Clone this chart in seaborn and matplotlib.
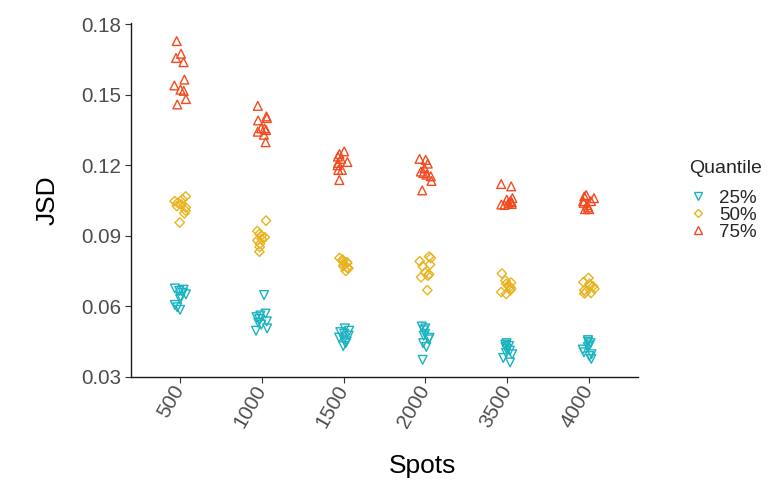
import numpy as np
import pandas as pd
import seaborn as sns
import matplotlib.pyplot as plt
from matplotlib.lines import Line2D

# Number of spots per simulated slide (x categories)
spots = ["500", "1000", "1500", "2000", "3500", "4000"]
quantiles = ["25%", "50%", "75%"]

# JSD of replicate runs, one list per spot count
jsd_q25 = [
    [0.0675, 0.0670, 0.0665, 0.0657, 0.0650, 0.0640, 0.0630, 0.0605, 0.0595, 0.0584],
    [0.0647, 0.0568, 0.0560, 0.0553, 0.0545, 0.0535, 0.0529, 0.0521, 0.0505, 0.0495],
    [0.0505, 0.0495, 0.0489, 0.0482, 0.0474, 0.0466, 0.0458, 0.0450, 0.0442, 0.0430],
    [0.0513, 0.0505, 0.0497, 0.0482, 0.0474, 0.0465, 0.0458, 0.0442, 0.0426, 0.0371],
    [0.0442, 0.0436, 0.0430, 0.0425, 0.0418, 0.0410, 0.0400, 0.0395, 0.0379, 0.0360],
    [0.0455, 0.0448, 0.0442, 0.0433, 0.0426, 0.0415, 0.0403, 0.0395, 0.0387, 0.0375],
]
jsd_q50 = [
    [0.1067, 0.1055, 0.1047, 0.1040, 0.1033, 0.1026, 0.1020, 0.1007, 0.0995, 0.0956],
    [0.0964, 0.0920, 0.0907, 0.0900, 0.0893, 0.0886, 0.0880, 0.0866, 0.0852, 0.0832],
    [0.0805, 0.0798, 0.0791, 0.0786, 0.0784, 0.0777, 0.0770, 0.0764, 0.0761, 0.0750],
    [0.0811, 0.0805, 0.0791, 0.0777, 0.0770, 0.0743, 0.0736, 0.0730, 0.0723, 0.0668],
    [0.0739, 0.0709, 0.0700, 0.0695, 0.0688, 0.0682, 0.0675, 0.0668, 0.0660, 0.0652],
    [0.0720, 0.0702, 0.0695, 0.0688, 0.0684, 0.0674, 0.0668, 0.0660, 0.0656, 0.0654],
]
jsd_q75 = [
    [0.1729, 0.1675, 0.1657, 0.1639, 0.1565, 0.1540, 0.1522, 0.1517, 0.1482, 0.1459],
    [0.1453, 0.1408, 0.1401, 0.1391, 0.1357, 0.1357, 0.1350, 0.1343, 0.1330, 0.1298],
    [0.1259, 0.1248, 0.1237, 0.1227, 0.1214, 0.1210, 0.1200, 0.1180, 0.1180, 0.1137],
    [0.1227, 0.1223, 0.1207, 0.1187, 0.1173, 0.1167, 0.1160, 0.1153, 0.1133, 0.1093],
    [0.1120, 0.1110, 0.1060, 0.1053, 0.1047, 0.1043, 0.1040, 0.1035, 0.1033, 0.1031],
    [0.1073, 0.1067, 0.1060, 0.1047, 0.1047, 0.1040, 0.1030, 0.1020, 0.1013, 0.1013],
]

y_ticks = [0.03, 0.06, 0.09, 0.12, 0.15, 0.18]

colors = {"25%": "#1AB3C0", "50%": "#E8B31E", "75%": "#F34A1F"}
markers = {"25%": "v", "50%": "D", "75%": "^"}
sizes = {"25%": 6.3, "50%": 4.8, "75%": 6.3}

rows = []
for q, table in zip(quantiles, [jsd_q25, jsd_q50, jsd_q75]):
    for s, vals in zip(spots, table):
        for v in vals:
            rows.append({"Spots": s, "JSD": v, "Quantile": q})
df = pd.DataFrame(rows)

sns.set_style("ticks")
plt.rcParams["font.family"] = ["Liberation Sans", "DejaVu Sans"]

fig = plt.figure(figsize=(7.71, 4.83), dpi=100)
ax = fig.add_axes([131 / 771, 1 - 377 / 483, (638 - 131) / 771, (377 - 23) / 483])

np.random.seed(7)
for q in quantiles:
    sub = df[df["Quantile"] == q]
    sns.stripplot(
        data=sub, x="Spots", y="JSD", order=spots, jitter=0.075,
        marker=markers[q], color=colors[q], facecolor="none",
        edgecolor=colors[q], linewidth=1.0, size=sizes[q], ax=ax,
    )

ax.set_xlim(-0.6, 5.6)
ax.set_ylim(0.0298, 0.1806)
ax.set_yticks(y_ticks)
ax.set_yticklabels([f"{t:.2f}" for t in y_ticks])

for side in ["top", "right"]:
    ax.spines[side].set_visible(False)
for side in ["left", "bottom"]:
    ax.spines[side].set_color("#1a1a1a")
    ax.spines[side].set_linewidth(1.0)

ax.tick_params(axis="both", colors="#333333", length=4, width=0.8,
               labelsize=14.8, labelcolor="#4D4D4D", pad=3)
for lab in ax.get_xticklabels():
    lab.set_rotation(60)
    lab.set_ha("right")
    lab.set_va("center")
    lab.set_rotation_mode("anchor")

ax.set_xlabel("Spots", fontsize=19, color="black")
ax.xaxis.set_label_coords((423 - 131) / 507, -(466 - 377) / 354, transform=ax.transAxes)
ax.xaxis.label.set_va("center")
ax.set_ylabel("JSD", fontsize=19, color="black")
ax.yaxis.set_label_coords(-(131 - 48) / 507, 0.5, transform=ax.transAxes)
ax.yaxis.label.set_va("center")

handles = [
    Line2D([], [], linestyle="none", marker=markers[q], markersize=sizes[q] - 0.8,
           markerfacecolor="none", markeredgecolor=colors[q], markeredgewidth=1.0)
    for q in quantiles
]
leg = fig.legend(handles, quantiles, title="Quantile", loc="upper left",
                 bbox_to_anchor=(689 / 771, 1 - 160 / 483), frameon=False,
                 fontsize=13.5, title_fontsize=14, handlelength=1.0,
                 handletextpad=0.6, labelspacing=0.0, borderaxespad=0,
                 borderpad=0)
leg._legend_box.align = "left"
leg._legend_box.sep = 9

fig.savefig("out.png", dpi=100)
